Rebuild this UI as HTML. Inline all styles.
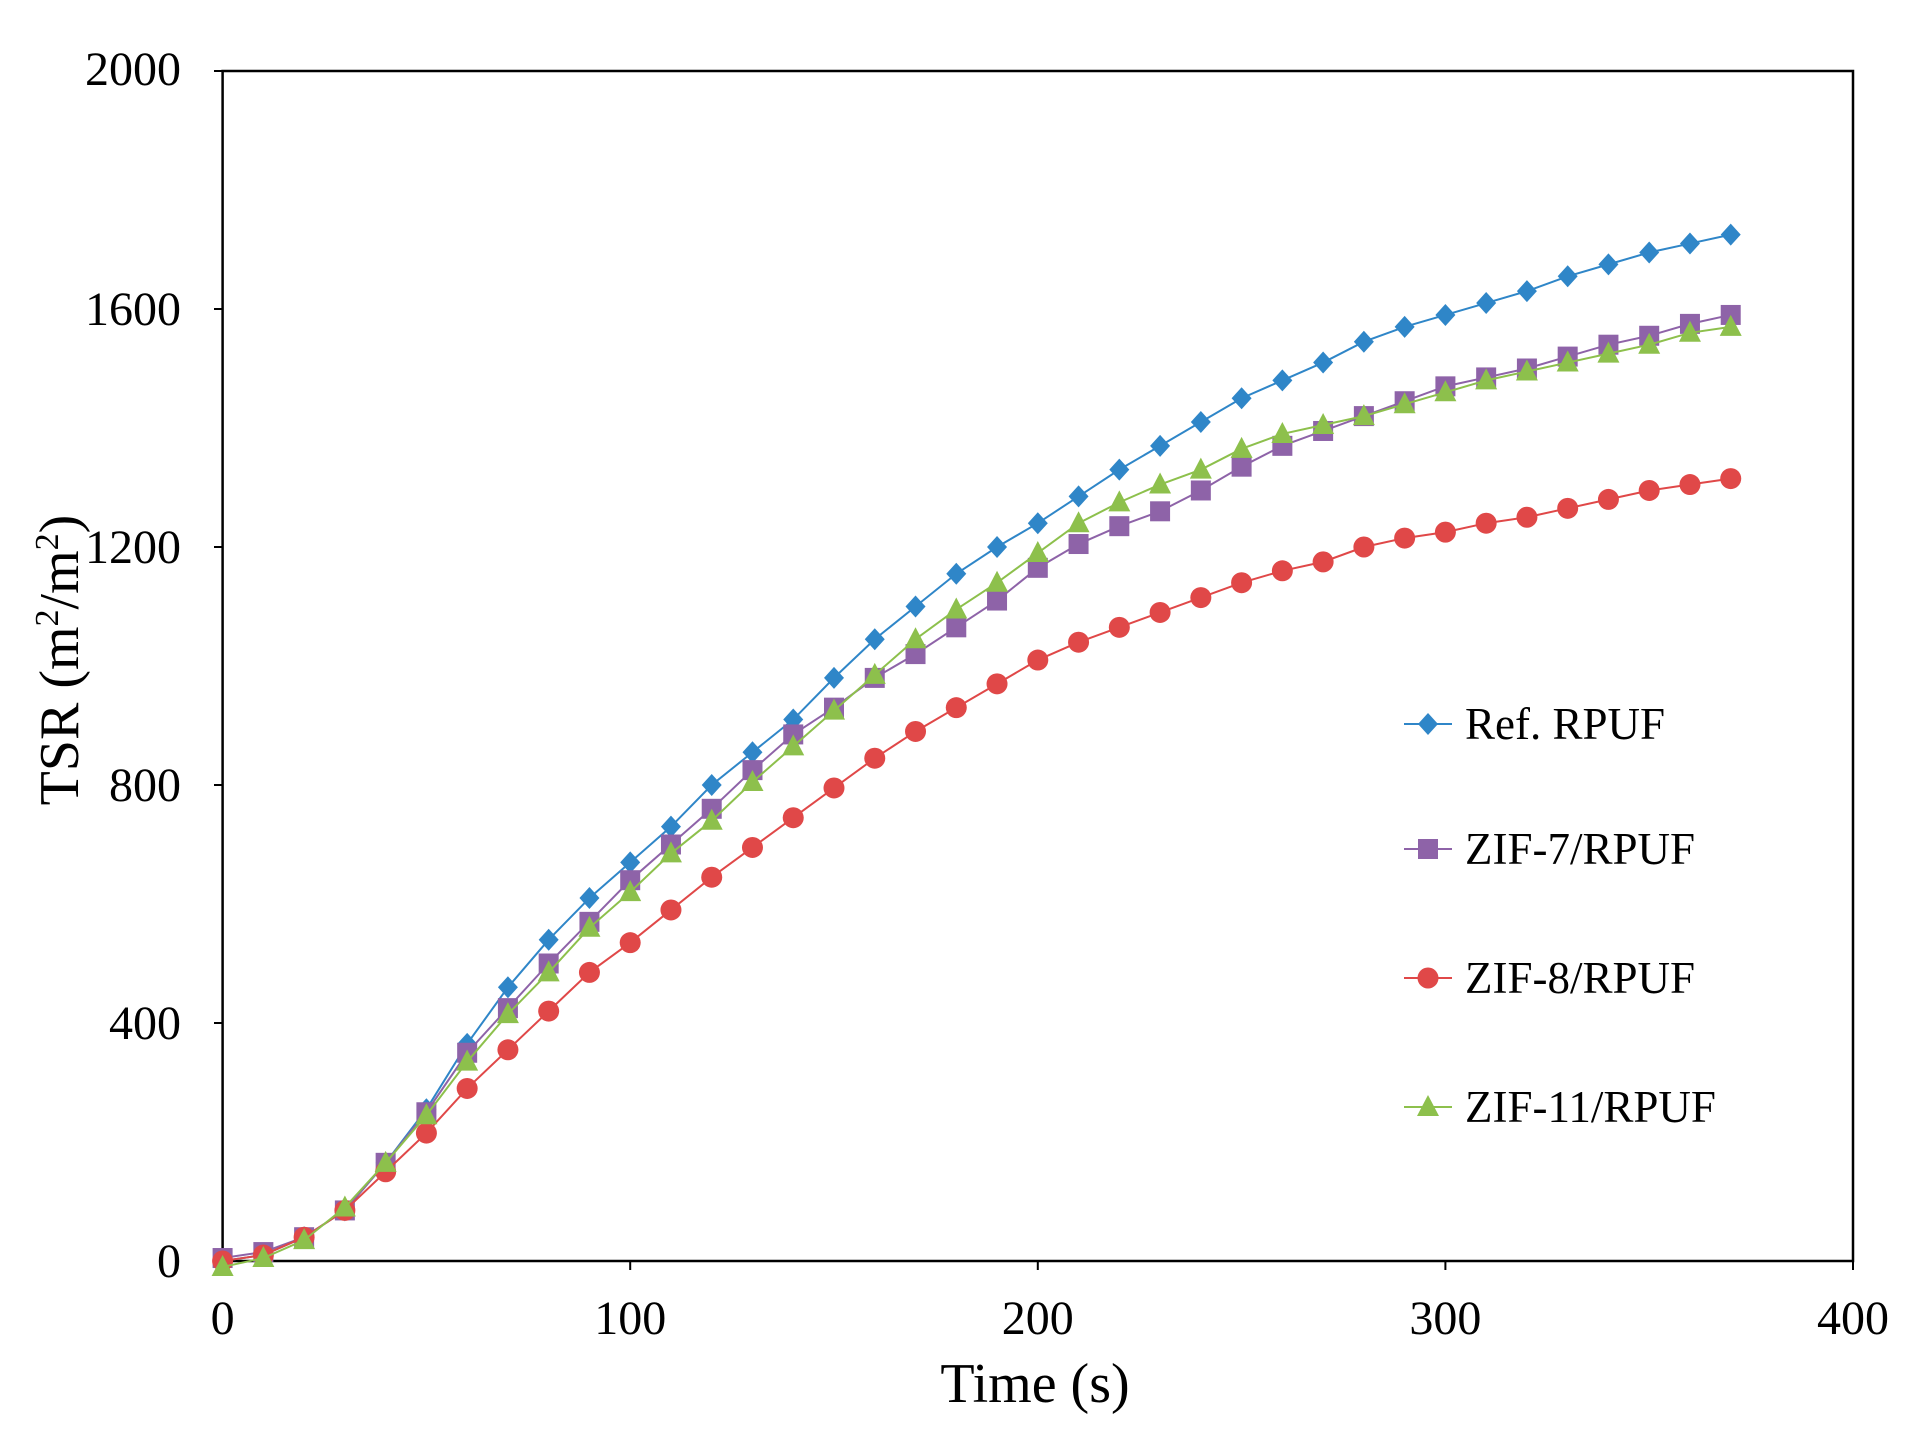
<!DOCTYPE html>
<html><head><meta charset="utf-8"><style>
html,body{margin:0;padding:0;background:#fff;}
svg{display:block;font-family:"Liberation Serif",serif;}
</style></head><body>
<svg id="s" width="1908" height="1436" xmlns="http://www.w3.org/2000/svg">
<rect x="222.6" y="71" width="1630.4" height="1190" fill="none" stroke="#000" stroke-width="2.5"/>
<g font-size="48" fill="#000" text-anchor="end">
<text x="181" y="1277">0</text>
<text x="181" y="1039">400</text>
<text x="181" y="801">800</text>
<text x="181" y="563">1200</text>
<text x="181" y="325">1600</text>
<text x="181" y="85">2000</text>
</g>
<g font-size="48" fill="#000" text-anchor="middle">
<text x="222.6" y="1334">0</text>
<text x="630.2" y="1334">100</text>
<text x="1037.8" y="1334">200</text>
<text x="1445.4" y="1334">300</text>
<text x="1853" y="1334">400</text>
<text x="1035" y="1402" font-size="56">Time (s)</text>
<text transform="translate(78,660) rotate(-90)" font-size="56">TSR (m<tspan font-size="34" dy="-20">2</tspan><tspan dy="20">/m</tspan><tspan font-size="34" dy="-20">2</tspan><tspan dy="20">)</tspan></text>
</g>
<g id="ticks" stroke="#000" stroke-width="2"></g>
<g id="series"></g>
<g font-size="45" fill="#000">
<text x="1465" y="739">Ref. RPUF</text>
<text x="1465" y="864">ZIF-7/RPUF</text>
<text x="1465" y="993">ZIF-8/RPUF</text>
<text x="1465" y="1122">ZIF-11/RPUF</text>
</g>
</svg>
<script>
const NS="http://www.w3.org/2000/svg";
const X=v=>222.6+v*4.076, Y=v=>1261-v*0.595;
const tk=document.getElementById('ticks');
function el(p,t,a){const e=document.createElementNS(NS,t);for(const k in a)e.setAttribute(k,a[k]);p.appendChild(e);return e;}
for(let v=0;v<=2000;v+=400)el(tk,'line',{x1:214,x2:222.6,y1:Y(v),y2:Y(v)});
for(let v=0;v<=400;v+=100)el(tk,'line',{x1:X(v),x2:X(v),y1:1261,y2:1270});
const D={
ref:[0,10,40,85,165,255,365,460,540,610,670,730,800,855,910,980,1045,1100,1155,1200,1240,1285,1330,1370,1410,1450,1480,1510,1545,1570,1590,1610,1630,1655,1675,1695,1710,1725],
z7:[5,15,40,85,165,250,350,425,500,570,640,700,760,825,885,930,980,1020,1065,1110,1165,1205,1235,1260,1295,1335,1370,1395,1420,1445,1470,1485,1500,1520,1540,1555,1575,1590],
z8:[0,10,40,85,150,215,290,355,420,485,535,590,645,695,745,795,845,890,930,970,1010,1040,1065,1090,1115,1140,1160,1175,1200,1215,1225,1240,1250,1265,1280,1295,1305,1315],
z11:[-10,5,35,90,165,245,335,415,485,560,620,685,740,805,865,925,985,1045,1095,1140,1190,1240,1275,1305,1330,1365,1390,1405,1420,1440,1460,1480,1495,1510,1525,1540,1560,1570]};
const S=[['ref','#2f86c8','d',724],['z7','#8e63a8','s',849],['z8','#e04848','c',978],['z11','#8dc04c','t',1107]];
const g=document.getElementById('series');
function mk(t,x,y,c){
 if(t=='d')el(g,'polygon',{points:`${x},${y-11} ${x+10},${y} ${x},${y+11} ${x-10},${y}`,fill:c});
 else if(t=='s')el(g,'rect',{x:x-10,y:y-10,width:20,height:20,fill:c});
 else if(t=='c')el(g,'circle',{cx:x,cy:y,r:10.5,fill:c});
 else el(g,'polygon',{points:`${x},${y-12} ${x+11},${y+9} ${x-11},${y+9}`,fill:c});
}
for(const [k,c,t,ly] of S){
 const pts=D[k].map((v,i)=>[X(i*10),Y(v)]);
 el(g,'polyline',{points:pts.map(p=>p.join(',')).join(' '),fill:'none',stroke:c,'stroke-width':2});
 pts.forEach(p=>mk(t,p[0],p[1],c));
 el(g,'line',{x1:1404,x2:1452,y1:ly,y2:ly,stroke:c,'stroke-width':2});
 mk(t,1428,ly,c);
}
</script>
</body></html>
